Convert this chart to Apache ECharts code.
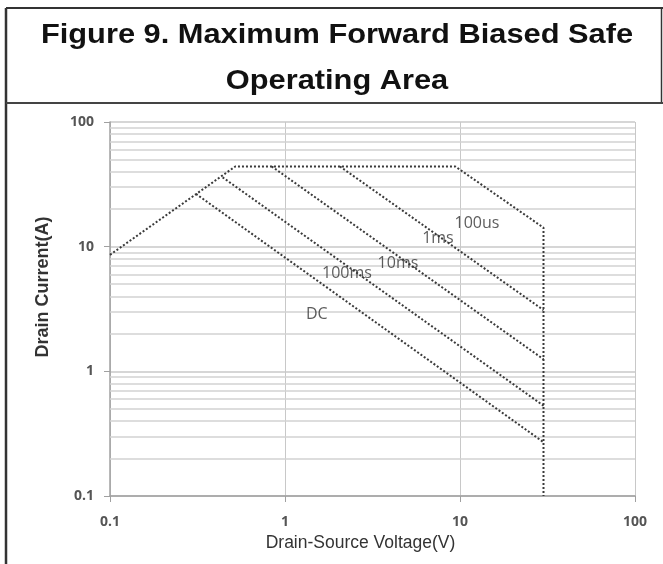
<!DOCTYPE html>
<html>
<head>
<meta charset="utf-8">
<script src="https://cdn.jsdelivr.net/npm/echarts@6/dist/echarts.min.js"></script>
<style>html,body{margin:0;padding:0;background:#fff}#c{width:663px;height:564px}</style>
</head>
<body>
<div id="c"></div>
<script>
// ---- data (V, A) ----
const boundary = [[0.1, 8.6], [0.52, 44], [9.4, 44], [30, 14.2], [30, 0.1]];
const line1ms  = [[2.06, 44], [30, 3.1]];
const line10ms = [[0.84, 44], [30, 1.25]];
const line100ms = [[0.44, 36], [30, 0.53]];
const lineDC   = [[0.31, 26.5], [30, 0.27]];
const curveLabels = ['100us', '1ms', '10ms', '100ms', 'DC'];
const labelPoints = [[12.5, 15.3], [7.48, 11.6], [4.42, 7.3], [2.26, 6.08], [1.52, 2.85]];
const minorGridY = [0.2,0.3,0.4,0.5,0.6,0.7,0.8,0.9, 2,3,4,5,6,7,8,9, 20,30,40,50,60,70,80,90];
const titleLines = ['Figure 9. Maximum Forward Biased Safe', 'Operating Area'];

const chart = echarts.init(document.getElementById('c'));
const lineStyle = {color: '#3a3a3a', width: 2, type: [2, 2]};
const mk = (d) => ({type: 'line', data: d, symbol: 'none', lineStyle: lineStyle, silent: true, z: 5});
const titleFont = {fontFamily: 'Liberation Sans', fontWeight: 'bold', fontSize: 28, fill: '#111',
                   textAlign: 'center', textVerticalAlign: 'middle'};

chart.setOption({
  animation: false,
  backgroundColor: '#fff',
  graphic: [
    {type: 'line', shape: {x1: 6, y1: 8, x2: 6, y2: 564}, style: {stroke: '#333', lineWidth: 2.5}},
    {type: 'line', shape: {x1: 6, y1: 8, x2: 663, y2: 8}, style: {stroke: '#333', lineWidth: 2}},
    {type: 'line', shape: {x1: 661.5, y1: 8, x2: 661.5, y2: 103}, style: {stroke: '#333', lineWidth: 1.5}},
    {type: 'line', shape: {x1: 6, y1: 103, x2: 663, y2: 103}, style: {stroke: '#444', lineWidth: 2}},
    {type: 'text', x: 337, y: 35, scaleX: 1.1, style: Object.assign({text: titleLines[0]}, titleFont)},
    {type: 'text', x: 337, y: 81, scaleX: 1.1, style: Object.assign({text: titleLines[1]}, titleFont)}
  ],
  grid: {left: 110, right: 28, top: 122, bottom: 68},
  xAxis: {
    type: 'log', logBase: 10, min: 0.1, max: 100,
    name: 'Drain-Source Voltage(V)', nameLocation: 'middle', nameGap: 36,
    nameTextStyle: {fontFamily: 'Liberation Sans', fontSize: 17.5, color: '#333', padding: [0, 24, 0, 0]},
    axisLine: {show: true, lineStyle: {color: '#a0a0a0', width: 1.5}},
    axisTick: {show: true, length: 6, lineStyle: {color: '#a0a0a0'}},
    axisLabel: {margin: 19, fontFamily: 'Open Sans', fontWeight: 'bold', fontSize: 14, color: '#555',
      formatter: v => String(v)},
    splitLine: {show: true, lineStyle: {color: '#c8c8c8', width: 1}}
  },
  yAxis: {
    type: 'log', logBase: 10, min: 0.1, max: 100,
    name: 'Drain Current(A)', nameLocation: 'middle', nameGap: 58, nameRotate: 90,
    nameTextStyle: {fontFamily: 'Liberation Sans', fontWeight: 'bold', fontSize: 18, color: '#333',
      padding: [0, 0, 0, 44]},
    axisLine: {show: true, lineStyle: {color: '#a0a0a0', width: 1.5}},
    axisTick: {show: true, length: 6, lineStyle: {color: '#a0a0a0'}},
    axisLabel: {margin: 16, fontFamily: 'Open Sans', fontWeight: 'bold', fontSize: 14, color: '#555',
      formatter: v => String(v)},
    splitLine: {show: true, lineStyle: {color: '#c8c8c8', width: 1.5}}
  },
  series: [
    {type: 'line', data: [], symbol: 'none', silent: true,
     markLine: {silent: true, symbol: 'none', label: {show: false},
       lineStyle: {color: '#d2d2d2', width: 1.5, type: 'solid'},
       data: minorGridY.map(v => ({yAxis: v}))}},
    mk(boundary), mk(line1ms), mk(line10ms), mk(line100ms), mk(lineDC),
    {type: 'scatter', symbolSize: 0, silent: true, z: 6,
     data: labelPoints.map((p, i) => ({value: p, name: curveLabels[i]})),
     label: {show: true, position: 'inside', formatter: p => p.name,
       fontFamily: 'Open Sans', fontSize: 16, color: '#333'}}
  ]
});
</script>
</body>
</html>
